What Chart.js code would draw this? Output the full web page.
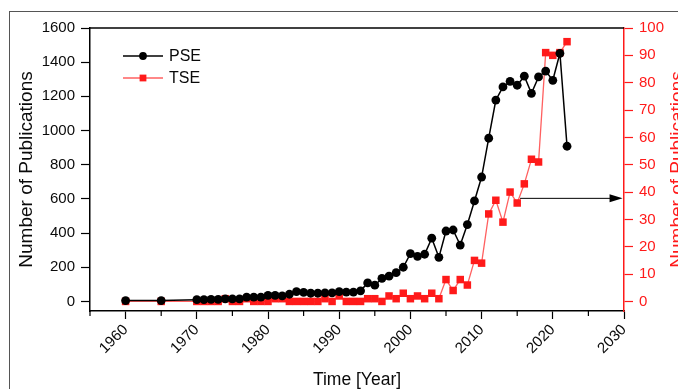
<!DOCTYPE html>
<html>
<head>
<meta charset="utf-8">
<script src="https://cdn.jsdelivr.net/npm/chart.js@4.4.1/dist/chart.umd.min.js"></script>
<style>
  html, body { margin: 0; padding: 0; background: #fff; overflow: hidden; }
  #wrap { width: 678px; height: 389px; position: relative; }
</style>
</head>
<body>
<div id="wrap"><canvas id="pubChart"></canvas></div>
<script>
const years = [1960, 1965, 1970, 1971, 1972, 1973, 1974, 1975, 1976, 1977, 1978, 1979,
  1980, 1981, 1982, 1983, 1984, 1985, 1986, 1987, 1988, 1989,
  1990, 1991, 1992, 1993, 1994, 1995, 1996, 1997, 1998, 1999,
  2000, 2001, 2002, 2003, 2004, 2005, 2006, 2007, 2008, 2009,
  2010, 2011, 2012, 2013, 2014, 2015, 2016, 2017, 2018, 2019,
  2020, 2021, 2022];
const pseCounts = [5, 5, 10, 10, 12, 12, 15, 15, 15, 25, 25, 25,
  35, 35, 33, 42, 57, 53, 48, 48, 50, 50,
  57, 55, 55, 62, 108, 95, 135, 148, 168, 200,
  280, 264, 276, 370, 258, 412, 418, 330, 450, 588,
  728, 955, 1178, 1255, 1288, 1265, 1318, 1218, 1314, 1348,
  1294, 1452, 908];
const tseCounts = [0, 0, 0, 0, 0, 0, 1, 0, 0, 1, 0, 0,
  0, 1, 1, 0, 0, 0, 0, 0, 1, 0,
  2, 0, 0, 0, 1, 1, 0, 2, 1, 3,
  1, 2, 1, 3, 1, 8, 4, 8, 6, 15,
  14, 32, 37, 29, 40, 36, 43, 52, 51, 91,
  90, 91, 95];
const yearTicks = [1960, 1970, 1980, 1990, 2000, 2010, 2020, 2030];
const minorYearTicks = [1955, 1965, 1975, 1985, 1995, 2005, 2015, 2025];
const pseTicks = [0, 200, 400, 600, 800, 1000, 1200, 1400, 1600];
const tseTicks = [0, 10, 20, 30, 40, 50, 60, 70, 80, 90, 100];
// arrow from the TSE curve to the right axis, in data units (year, TSE count)
const arrowStart = [2015.4, 37.7];
const arrowEnd = [2029.8, 37.7];

const FONT = "'Liberation Sans', Arial, sans-serif";
const RED = '#ff1a1a';
const INK = '#0a0a0a';

const pairs = (ys) => years.map((yr, i) => ({ x: yr, y: ys[i] }));
const fixTicks = (list) => (scale) => { scale.ticks = list.map(v => ({ value: v })); };

const decorations = {
  id: 'decorations',
  afterDraw(chart) {
    const { ctx, chartArea: a, scales } = chart;
    ctx.save();

    // outer frame of the figure
    ctx.strokeStyle = '#555';
    ctx.lineWidth = 1;
    ctx.strokeRect(9.5, 11.5, 720, 420);

    // top border of the plot box
    ctx.strokeStyle = '#000';
    ctx.lineWidth = 1.5;
    ctx.beginPath();
    ctx.moveTo(a.left, a.top);
    ctx.lineTo(a.right, a.top);
    ctx.stroke();

    // minor year ticks
    ctx.lineWidth = 1.2;
    minorYearTicks.forEach(v => {
      const px = scales.x.getPixelForValue(v);
      ctx.beginPath();
      ctx.moveTo(px, a.bottom);
      ctx.lineTo(px, a.bottom + 5);
      ctx.stroke();
    });

    // arrow
    const x0 = scales.x.getPixelForValue(arrowStart[0]);
    const y0 = scales.y2.getPixelForValue(arrowStart[1]);
    const x1 = scales.x.getPixelForValue(arrowEnd[0]);
    ctx.lineWidth = 1;
    ctx.beginPath();
    ctx.moveTo(x0, y0);
    ctx.lineTo(x1 - 8, y0);
    ctx.stroke();
    ctx.fillStyle = '#000';
    ctx.beginPath();
    ctx.moveTo(x1, y0);
    ctx.lineTo(x1 - 13, y0 - 4);
    ctx.lineTo(x1 - 13, y0 + 4);
    ctx.closePath();
    ctx.fill();

    // legend
    chart.data.datasets.forEach((ds, i) => {
      const ly = a.top + 28 + i * 22;
      const lx = a.left + 33;
      ctx.strokeStyle = ds.borderColor;
      ctx.lineWidth = ds.borderWidth;
      ctx.beginPath();
      ctx.moveTo(lx, ly);
      ctx.lineTo(lx + 40, ly);
      ctx.stroke();
      ctx.fillStyle = ds.pointBackgroundColor;
      ctx.strokeStyle = ds.pointBackgroundColor;
      Chart.helpers.drawPoint(ctx, { pointStyle: ds.pointStyle, radius: ds.pointRadius - 0.5, borderWidth: 0 }, lx + 20, ly);
      ctx.fillStyle = INK;
      ctx.font = '16px ' + FONT;
      ctx.textBaseline = 'middle';
      ctx.textAlign = 'left';
      ctx.fillText(ds.label, lx + 46, ly + 1);
    });

    // x axis title
    ctx.fillStyle = INK;
    ctx.font = '17.5px ' + FONT;
    ctx.textAlign = 'center';
    ctx.textBaseline = 'middle';
    ctx.fillText('Time [Year]', (a.left + a.right) / 2, 380);

    // right axis title (runs off the figure edge)
    ctx.fillStyle = RED;
    ctx.font = '19px ' + FONT;
    ctx.translate(678, (a.top + a.bottom) / 2);
    ctx.rotate(-Math.PI / 2);
    ctx.fillText('Number of Publications', 0, 0);

    ctx.restore();
  }
};

new Chart(document.getElementById('pubChart'), {
  type: 'line',
  data: {
    datasets: [
      {
        label: 'PSE',
        data: pairs(pseCounts),
        yAxisID: 'y',
        borderColor: '#000',
        borderWidth: 1.5,
        pointStyle: 'circle',
        pointRadius: 4.4,
        pointBackgroundColor: '#000',
        pointBorderWidth: 0,
        tension: 0,
      },
      {
        label: 'TSE',
        data: pairs(tseCounts),
        yAxisID: 'y2',
        borderColor: '#ff6060',
        borderWidth: 1.3,
        pointStyle: 'rect',
        pointRadius: 5.3,
        pointBackgroundColor: RED,
        pointBorderWidth: 0,
        tension: 0,
      },
    ],
  },
  options: {
    responsive: true,
    maintainAspectRatio: false,
    animation: false,
    layout: { padding: { left: 0, right: 0, top: 28, bottom: 0 } },
    plugins: {
      legend: { display: false },
      tooltip: { enabled: false },
    },
    scales: {
      x: {
        type: 'linear',
        min: 1955,
        max: 2030,
        afterBuildTicks: fixTicks(yearTicks),
        afterFit: (scale) => { scale.height = 78; },
        border: { color: '#000', width: 1.5 },
        grid: { drawOnChartArea: false, tickLength: 8, tickColor: '#000', tickWidth: 1.2 },
        ticks: {
          autoSkip: false,
          minRotation: 45,
          maxRotation: 45,
          padding: 2,
          color: INK,
          font: { family: FONT, size: 15 },
          callback: (v) => String(v),
        },
      },
      y: {
        position: 'left',
        min: -56,
        max: 1600,
        afterBuildTicks: fixTicks(pseTicks),
        afterFit: (scale) => { scale.width = 90; },
        border: { color: '#000', width: 1.5 },
        grid: { drawOnChartArea: false, tickLength: 9, tickColor: '#000', tickWidth: 1.2 },
        ticks: {
          padding: 6,
          color: INK,
          font: { family: FONT, size: 15 },
          callback: (v) => String(v),
        },
        title: {
          display: true,
          text: 'Number of Publications',
          color: INK,
          font: { family: FONT, size: 19 },
          padding: { top: 15, bottom: 0 },
        },
      },
      y2: {
        position: 'right',
        min: -3.5,
        max: 100,
        afterBuildTicks: fixTicks(tseTicks),
        afterFit: (scale) => { scale.width = 54; },
        border: { color: RED, width: 1.5 },
        grid: { drawOnChartArea: false, tickLength: 9, tickColor: RED, tickWidth: 1.2 },
        ticks: {
          padding: 6,
          color: RED,
          font: { family: FONT, size: 15 },
          callback: (v) => String(v),
        },
      },
    },
  },
  plugins: [decorations],
});
</script>
</body>
</html>
